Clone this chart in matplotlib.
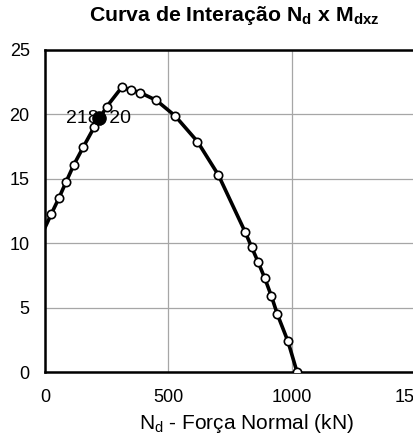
import numpy as np
import matplotlib.pyplot as plt
plt.rcParams['font.family'] = ['Liberation Sans', 'DejaVu Sans']

# Curve points (N_d in kN, M_dxz in kN.m)
nd = [-20, 26, 56, 85, 117, 156, 199, 250, 311, 347, 385, 451, 527, 618,
      703, 811, 838, 864, 891, 918, 942, 985, 1022]
md = [10.4, 12.3, 13.5, 14.75, 16.1, 17.5, 19.0, 20.6, 22.1, 21.9, 21.7,
      21.1, 19.9, 17.9, 15.3, 10.9, 9.7, 8.55, 7.3, 5.9, 4.5, 2.4, 0.0]

# design point
pt_n = [218]
pt_m = [19.7]
pt_label = '218; 20'

x_ticks = [0, 500, 1000, 1500]
y_ticks = [0, 5, 10, 15, 20, 25]

fig = plt.figure(figsize=(4.14, 4.41), dpi=100)
ax = fig.add_axes([45 / 414, 1 - 372.3 / 441, 370 / 414, 322.3 / 441])

ax.plot(nd, md, color='black', lw=2.6, marker='o', ms=6,
        mfc='white', mec='black', mew=1.2, zorder=3)
ax.plot(pt_n, pt_m, 'o', color='black', ms=9.5, zorder=5)
ax.text(pt_n[0], pt_m[0], pt_label, ha='center', va='center',
        fontsize=14, zorder=4)

ax.set_xlim(0, 1500)
ax.set_ylim(0, 25)
ax.set_xticks(x_ticks)
ax.set_yticks(y_ticks)
ax.grid(True, color='#a6a6a6', lw=0.9)
ax.set_axisbelow(True)
ax.tick_params(length=0, labelsize=13)
ax.tick_params(axis='x', pad=12)
ax.tick_params(axis='y', pad=11)
for s in ['left', 'bottom', 'top']:
    ax.spines[s].set_linewidth(1.8)
ax.spines['right'].set_visible(False)

fig.text(234 / 414, 1 - 21 / 441, r'Curva de Interação N$_\mathregular{d}$ x M$_\mathregular{dxz}$',
         ha='center', va='baseline', fontsize=15.3, fontweight='bold')
fig.text(246 / 414, 1 - 429 / 441, r'N$_\mathregular{d}$ - Força Normal (kN)',
         ha='center', va='baseline', fontsize=15)

plt.savefig('out.png', dpi=100)
